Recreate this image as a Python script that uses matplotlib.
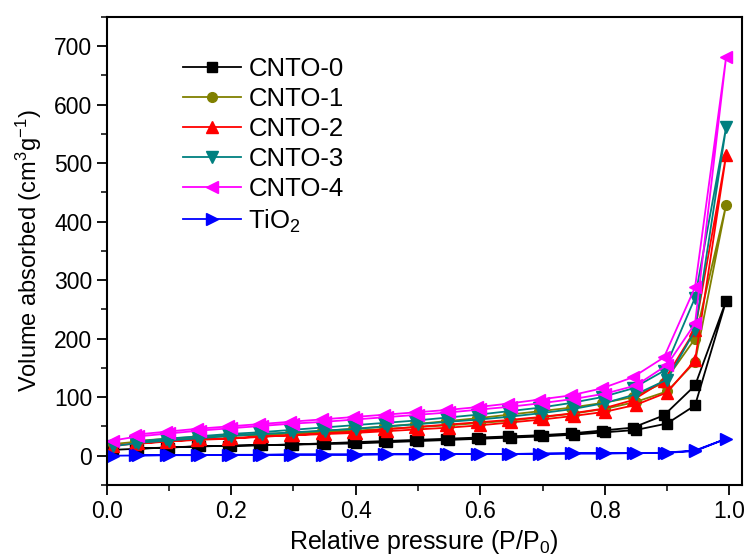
import matplotlib
matplotlib.use("Agg")
import matplotlib.pyplot as plt
from matplotlib.ticker import MultipleLocator

plt.rcParams['font.family'] = ['Liberation Sans', 'DejaVu Sans']
plt.rcParams['mathtext.fontset'] = 'custom'
plt.rcParams['mathtext.rm'] = 'Liberation Sans'
plt.rcParams['mathtext.it'] = 'Liberation Sans'

# Relative pressure points: adsorption branch (up), desorption branch (down)
p_ads = [0.01, 0.05, 0.10, 0.15, 0.20, 0.25, 0.30, 0.35, 0.40, 0.45, 0.50,
         0.55, 0.60, 0.65, 0.70, 0.75, 0.80, 0.85, 0.90, 0.945, 0.995]
p_des = [0.945, 0.895, 0.845, 0.795, 0.745, 0.695, 0.645, 0.595, 0.545, 0.495,
         0.445, 0.395, 0.345, 0.295, 0.245, 0.195, 0.145, 0.095, 0.045]

cnto0_ads = [10, 12, 14, 16, 17, 18, 19, 20, 21, 23, 25, 27, 29, 31, 33, 36, 40, 44, 55, 86, 265]
cnto0_des = [120, 69, 48, 43, 38, 35, 33, 31, 29, 27, 25, 23, 21, 19, 18, 17, 16, 14, 12]

cnto1_ads = [20, 24, 28, 31, 34, 36, 38, 40, 43, 46, 49, 52, 56, 60, 66, 72, 80, 92, 110, 160, 429]
cnto1_des = [200, 125, 100, 90, 82, 76, 70, 64, 59, 54, 50, 46, 42, 39, 37, 35, 32, 29, 25]

cnto2_ads = [17, 21, 25, 28, 30, 33, 35, 37, 39, 42, 45, 48, 52, 57, 62, 68, 75, 87, 108, 163, 514]
cnto2_des = [215, 128, 95, 80, 72, 66, 61, 57, 53, 49, 45, 41, 38, 35, 32, 29, 27, 24, 20]

cnto3_ads = [16, 22, 26, 30, 34, 37, 40, 43, 46, 50, 54, 58, 62, 67, 73, 80, 90, 105, 130, 214, 562]
cnto3_des = [270, 145, 115, 100, 90, 82, 76, 70, 65, 60, 56, 52, 48, 44, 40, 37, 33, 29, 24]

cnto4_ads = [26, 33, 38, 43, 47, 51, 55, 58, 62, 66, 70, 74, 79, 84, 90, 97, 106, 120, 155, 226, 682]
cnto4_des = [288, 168, 134, 115, 103, 96, 89, 83, 78, 74, 70, 66, 62, 58, 54, 50, 46, 41, 36]

tio2_ads = [0, 0.5, 1, 1, 1.5, 1.5, 2, 2, 2, 2.5, 2.5, 3, 3, 3, 3.5, 4, 4, 4.5, 5, 8, 29]
tio2_des = [9, 5, 4.5, 4, 4, 3.5, 3, 3, 3, 2.5, 2.5, 2, 2, 2, 1.5, 1.5, 1, 1, 0.5]

labels = ['CNTO-0', 'CNTO-1', 'CNTO-2', 'CNTO-3', 'CNTO-4', 'TiO$_2$']
series = [(cnto0_ads, cnto0_des), (cnto1_ads, cnto1_des), (cnto2_ads, cnto2_des),
          (cnto3_ads, cnto3_des), (cnto4_ads, cnto4_des), (tio2_ads, tio2_des)]
colors = ['#000000', '#808000', '#ff0000', '#008080', '#ff00ff', '#0000ff']
markers = ['s', 'o', '^', 'v', '<', '>']
msizes = [7, 7, 9, 9, 9, 9]

fig = plt.figure(figsize=(7.5, 5.59), dpi=100)
ax = fig.add_axes([0.1423, 0.1324, 0.8467, 0.8376])

for (ads, des), lab, c, m, ms in zip(series, labels, colors, markers, msizes):
    x = p_ads + p_des
    y = ads + des
    ax.plot(x, y, color=c, marker=m, markersize=ms, linewidth=1.3,
            markeredgecolor=c, markerfacecolor=c, label=lab)

ax.set_xlim(0, 1.02)
ax.set_ylim(-50, 750)
ax.xaxis.set_major_locator(MultipleLocator(0.2))
ax.xaxis.set_minor_locator(MultipleLocator(0.1))
ax.yaxis.set_major_locator(MultipleLocator(100))
ax.yaxis.set_minor_locator(MultipleLocator(50))
ax.set_yticks([0, 100, 200, 300, 400, 500, 600, 700])
ax.xaxis.set_major_formatter(matplotlib.ticker.FormatStrFormatter('%.1f'))

ax.tick_params(which='major', direction='out', length=7, width=1.3, labelsize=16.5,
               top=False, right=False)
ax.tick_params(which='minor', direction='out', length=4, width=1.1,
               top=False, right=False)
for s in ax.spines.values():
    s.set_linewidth(1.5)

ax.set_xlabel('Relative pressure (P/P$_0$)', fontsize=18, labelpad=4)
ax.set_ylabel('Volume absorbed (cm$^3$g$^{-1}$)', fontsize=17, labelpad=7)

ax.legend(loc='upper left', bbox_to_anchor=(0.12, 0.915), frameon=False,
          fontsize=18.5, handlelength=2.25, handletextpad=0.3, labelspacing=0.24,
          borderaxespad=0, borderpad=0)

fig.savefig('out.png', dpi=100)
